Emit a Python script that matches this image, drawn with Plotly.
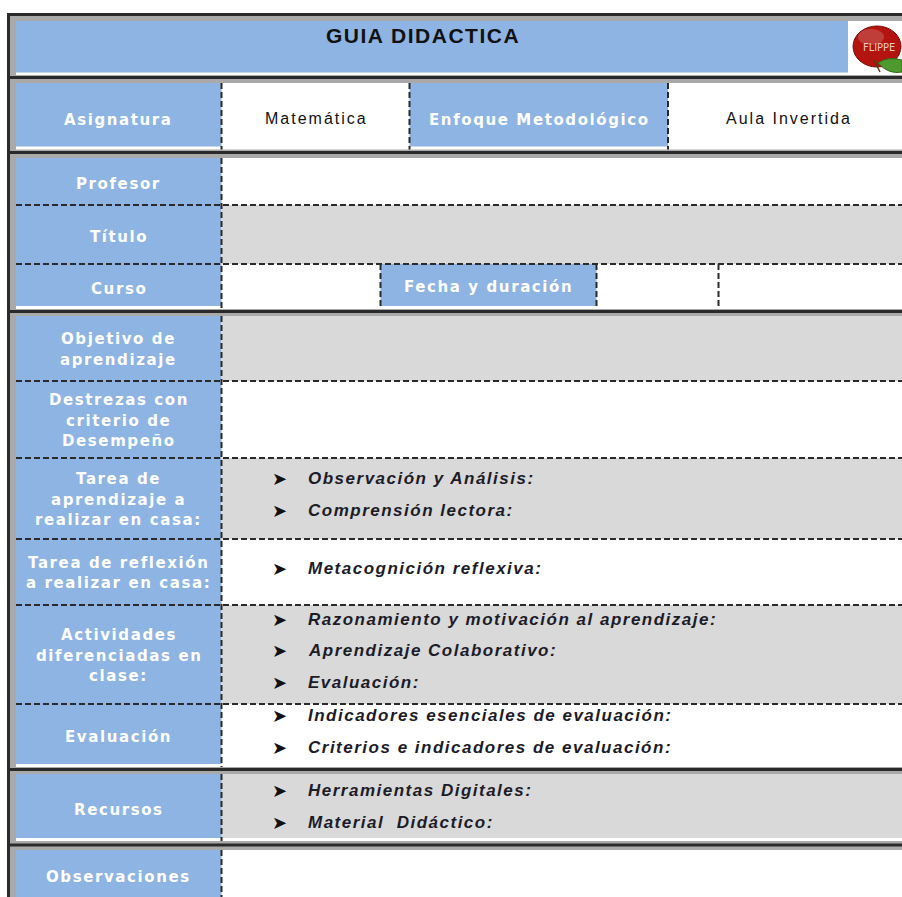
import plotly.graph_objects as go

# ---------------- data (texts of the form) ----------------
title = "GUIA DIDACTICA"
logo_text = "FLIPPE"
header_labels = ["Asignatura", "Enfoque Metodológico"]
header_values = ["Matemática", "Aula Invertida"]
block1_labels = ["Profesor", "Título", "Curso"]
fecha_label = "Fecha y duración"
block2_labels = [
    ["Objetivo de", "aprendizaje"],
    ["Destrezas con", "criterio de", "Desempeño"],
    ["Tarea de", "aprendizaje a", "realizar en casa:"],
    ["Tarea de reflexión", "a realizar en casa:"],
    ["Actividades", "diferenciadas en", "clase:"],
    ["Evaluación"],
]
block2_items = [
    [],
    [],
    ["Observación y Análisis:", "Comprensión lectora:"],
    ["Metacognición reflexiva:"],
    ["Razonamiento y motivación al aprendizaje:", "Aprendizaje Colaborativo:", "Evaluación:"],
    ["Indicadores esenciales de evaluación:", "Criterios e indicadores de evaluación:"],
]
recursos_label = "Recursos"
recursos_items = ["Herramientas Digitales:", "Material  Didáctico:"]
observ_label = "Observaciones"

# ---------------- layout geometry (pixels) ----------------
W, H = 902, 897
BLUE = "#8DB4E2"
GREY = "#D9D9D9"
FRAME = "#A9A9A9"
DARK = "#2A2A2A"
XL, XC = 16, 221.5          # label column left, column divider
XR = 905

shapes = []
ann = []


def rect(x0, y0, x1, y1, fill, line=None):
    shapes.append(dict(type="rect", xref="x", yref="y", x0=x0, y0=y0, x1=x1, y1=y1,
                       fillcolor=fill, line=dict(width=0) if line is None else line,
                       layer="below"))


def dline(x0, y0, x1, y1, dash="6px,3px", width=2, color=DARK):
    shapes.append(dict(type="line", xref="x", yref="y", x0=x0, y0=y0, x1=x1, y1=y1,
                       line=dict(color=color, width=width, dash=dash), layer="above"))


def label(x, y, txt, size=15, spacing=1.6):
    ann.append(dict(x=x, y=y, xref="x", yref="y", showarrow=False,
                    text=f'<span style="letter-spacing:{spacing}px">{txt}</span>',
                    font=dict(family="DejaVu Sans", size=size, color="white", weight="bold"),
                    xanchor="center", yanchor="middle"))


def multilabel(yc, lines, x=(XL + XC) / 2, lh=20.5):
    n = len(lines)
    for i, t in enumerate(lines):
        label(x, yc + (i - (n - 1) / 2) * lh, t)


def item(y, txt):
    ann.append(dict(x=270, y=y, xref="x", yref="y", showarrow=False, text="➤",
                    font=dict(family="DejaVu Sans", size=18, color="#111111"),
                    xanchor="left", yanchor="middle"))
    ann.append(dict(x=306, y=y, xref="x", yref="y", showarrow=False,
                    text=f'<span style="letter-spacing:1.5px"><b><i>{txt}</i></b></span>',
                    font=dict(family="Liberation Sans", size=17, color="#1C1C28"),
                    xanchor="left", yanchor="middle"))


# outer frame
rect(7, 13, XR, H + 5, FRAME)
rect(7, 13, XR, 16, DARK)
rect(7, 13, 10, H + 5, DARK)

# section separators (dark lines in the grey gaps)
for ysep in [77.5, 152.5, 311.5, 769.5, 845]:
    rect(7, ysep - 1.6, XR, ysep + 1.6, DARK)

# ---- title section ----
rect(XL, 21, XR, 75, "white")
rect(XL, 21, 848, 72.5, BLUE)
ann.append(dict(x=423, y=35, xref="x", yref="y", showarrow=False,
                text=f'<span style="letter-spacing:1.5px"><b>{title}</b></span>',
                font=dict(family="Liberation Sans", size=21, color="#111111"),
                xanchor="center", yanchor="middle"))
# logo
shapes.append(dict(type="circle", xref="x", yref="y", x0=853, y0=26, x1=901, y1=67,
                   fillcolor="#B3140F", line=dict(color="#7A0C08", width=1)))
shapes.append(dict(type="circle", xref="x", yref="y", x0=858, y0=29, x1=884, y1=45,
                   fillcolor="rgba(255,255,255,0.18)", line=dict(width=0)))
shapes.append(dict(type="path", xref="x", yref="y",
                   path="M 878 63 Q 888 56 902 60 L 902 72 Q 889 75 878 63 Z",
                   fillcolor="#4E9A2E", line=dict(color="#2F6A1A", width=1)))
dline(874, 60, 880, 72, dash="solid", width=1.5, color="#5A3A1A")
ann.append(dict(x=879, y=47, xref="x", yref="y", showarrow=False, text=logo_text,
                font=dict(family="DejaVu Sans Condensed", size=11, color="#EBC8C8"),
                xanchor="center", yanchor="middle"))

# ---- header section (Asignatura / Enfoque) ----
y0, y1 = 83, 149.5
rect(XL, y0, XR, y1, "white")
rect(XL, y0, XC, y1 - 3, BLUE)
rect(409.5, y0, 668, y1 - 3, BLUE)
dline(XC, y0, XC, y1)
dline(409.5, y0, 409.5, y1)
dline(668, y0, 668, y1)
label((XL + XC) / 2, 120, header_labels[0])
label((409.5 + 668) / 2 + 1, 120, header_labels[1])
for xc, t in [((XC + 409.5) / 2 + 1, header_values[0]), (789, header_values[1])]:
    ann.append(dict(x=xc, y=118, xref="x", yref="y", showarrow=False,
                    text=f'<span style="letter-spacing:2px">{t}</span>',
                    font=dict(family="Liberation Sans", size=16, color="#111111"),
                    xanchor="center", yanchor="middle"))

# ---- block 1 (Profesor / Título / Curso) ----
b1 = [158, 205, 264, 309]
rect(XL, b1[0], XR, b1[-1], "white")
rect(XL, b1[0], XC, b1[-1] - 3, BLUE)
rect(XC, b1[1], XR, b1[2], GREY)
rect(380.5, b1[2], 596.5, b1[-1] - 3, BLUE)
for yb in b1[1:3]:
    dline(XL, yb, XR, yb)
dline(XC, b1[0], XC, b1[-1])
for xv in [380.5, 596.5, 718.5]:
    dline(xv, b1[2], xv, b1[-1])
for i, t in enumerate(block1_labels):
    label((XL + XC) / 2, (b1[i] + b1[i + 1]) / 2 + 2, t)
label((380.5 + 596.5) / 2, 287, fecha_label)

# ---- block 2 ----
b2 = [316, 381, 458, 539, 605, 704, 767]
rect(XL, b2[0], XR, b2[-1], "white")
rect(XL, b2[0], XC, b2[-1] - 3, BLUE)
for i in range(len(block2_labels)):
    if i % 2 == 0:
        rect(XC, b2[i], XR, b2[i + 1], GREY)
for yb in b2[1:-1]:
    dline(XL, yb, XR, yb)
dline(XC, b2[0], XC, b2[-1])
for i, lines in enumerate(block2_labels):
    yc = (b2[i] + b2[i + 1]) / 2
    multilabel(yc + 1, lines)
    items = block2_items[i]
    n = len(items)
    for k, t in enumerate(items):
        item(yc + (k - (n - 1) / 2) * 31.5 - 4, t)

# ---- recursos ----
r0, r1 = 774, 841
rect(XL, r0, XR, r1, "white")
rect(XL, r0, XR, r1 - 3, GREY)
rect(XL, r0, XC, r1 - 3, BLUE)
dline(XC, r0, XC, r1)
label((XL + XC) / 2, 810, recursos_label)
for k, t in enumerate(recursos_items):
    item(790 + k * 32, t)

# ---- observaciones ----
o0 = 850
rect(XL, o0, XR, H + 5, "white")
rect(XL, o0, XC, H + 5, BLUE)
dline(XC, o0, XC, H + 5)
label((XL + XC) / 2, 877, observ_label)

fig = go.Figure()
fig.add_trace(go.Scatter(x=[0, W], y=[0, H], mode="markers", marker=dict(opacity=0),
                         hoverinfo="skip", showlegend=False))
fig.update_layout(
    width=W, height=H, margin=dict(l=0, r=0, t=0, b=0),
    paper_bgcolor="white", plot_bgcolor="white",
    xaxis=dict(range=[0, W], visible=False, fixedrange=True),
    yaxis=dict(range=[H, 0], visible=False, fixedrange=True),
    shapes=shapes, annotations=ann, showlegend=False,
)
fig.write_html("out.html", config=dict(displayModeBar=False),
               post_script="document.body.style.margin='0';document.body.style.overflow='hidden';")
